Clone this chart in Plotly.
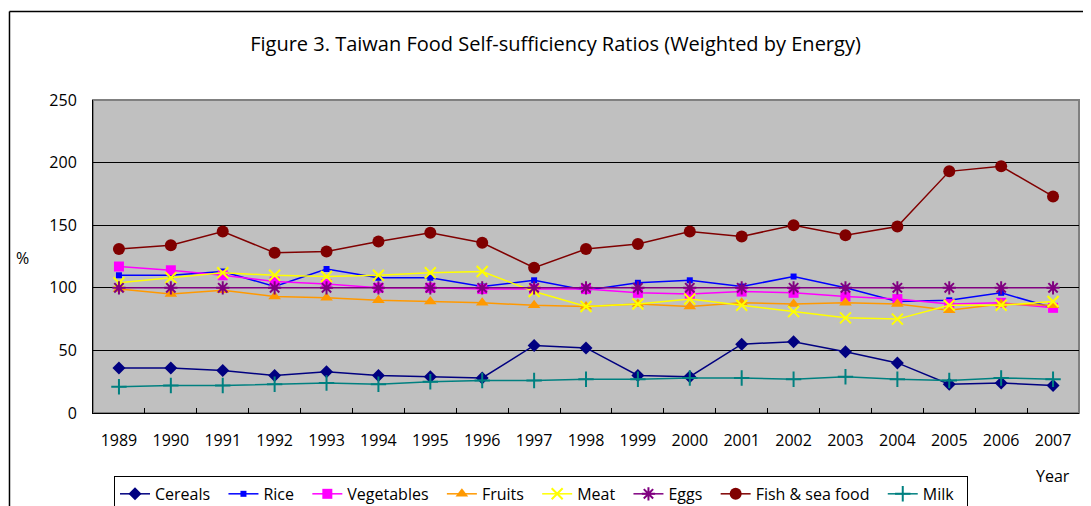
import plotly.graph_objects as go

years = [str(y) for y in range(1989, 2008)]

cereals = [36, 36, 34, 30, 33, 30, 29, 28, 54, 52, 30, 29, 55, 57, 49, 40, 23, 24, 22]
rice = [110, 110, 113, 101, 115, 108, 108, 101, 106, 98, 104, 106, 101, 109, 100, 89, 90, 96, 84]
vegetables = [117, 114, 110, 105, 103, 100, 100, 99, 99, 99, 96, 95, 97, 96, 93, 91, 87, 88, 84]
fruits = [99, 95, 98, 93, 92, 90, 89, 88, 86, 85, 87, 85, 88, 87, 88, 87, 82, 87, 86]
meat = [104, 108, 112, 110, 109, 110, 112, 113, 97, 85, 87, 91, 86, 81, 76, 75, 86, 86, 89]
eggs = [100] * 19
fish = [131, 134, 145, 128, 129, 137, 144, 136, 116, 131, 135, 145, 141, 150, 142, 149, 193, 197, 173]
milk = [21, 22, 22, 23, 24, 23, 25, 26, 26, 27, 27, 28, 28, 27, 29, 27, 26, 28, 27]

FONT = "Open Sans"
PAD = "\u00a0\u00a0"  # widen legend entries a little, like the Excel legend spacing

series = [
    ("Cereals", cereals, "#000080", "diamond", 10, 1.5),
    ("Rice", rice, "#0000FF", "square", 6, 1.5),
    ("Vegetables", vegetables, "#FF00FF", "square", 10, 1.5),
    ("Fruits", fruits, "#FF9900", "triangle-up", 11, 1.5),
    ("Meat", meat, "#FFFF00", "x-thin-open", 11, 1.5),
    ("Eggs", eggs, "#800080", "asterisk-open", 11, 1.5),
    ("Fish & sea food", fish, "#800000", "circle", 12, 1.5),
    ("Milk", milk, "#008080", "cross-thin-open", 11, 1.5),
]

fig = go.Figure()
for name, vals, color, sym, size, lw in series:
    fig.add_trace(go.Scatter(
        x=years, y=vals, name=name + PAD, mode="lines+markers",
        line=dict(color=color, width=lw),
        marker=dict(symbol=sym, size=size, color=color,
                    line=dict(color=color, width=2 if "open" in sym else 0)),
    ))

# page body has an 8px margin, so the figure is sized 8px smaller than the window
W, H = 1083, 498
fig.update_layout(
    width=W, height=H,
    margin=dict(l=85, r=12, t=92, b=93, autoexpand=False),
    paper_bgcolor="white",
    plot_bgcolor="#C0C0C0",
    font=dict(family=FONT, size=16, color="black"),
    title=dict(text="Figure 3. Taiwan Food Self-sufficiency Ratios (Weighted by Energy)",
               xref="container", x=547.5 / W, xanchor="center",
               yref="container", y=1 - 36 / H, yanchor="middle",
               font=dict(family=FONT, size=20, color="black")),
    legend=dict(orientation="h", x=0.0213, xanchor="left", y=-0.201, yanchor="top",
                bordercolor="black", borderwidth=1, bgcolor="white",
                font=dict(family=FONT, size=16), tracegroupgap=0),
    showlegend=True,
)

fig.update_xaxes(
    type="category", range=[-0.5, 18.5], tickson="boundaries",
    ticks="inside", ticklen=5, tickcolor="black",
    showline=True, linecolor="black", linewidth=1,
    showgrid=False, ticklabelstandoff=13, automargin=False,
    tickfont=dict(family=FONT, size=16),
)
fig.update_yaxes(
    range=[0, 250], dtick=50, showgrid=True, gridcolor="black", gridwidth=1,
    showline=True, linecolor="black", linewidth=1, zeroline=False,
    ticks="", ticklabelstandoff=12, automargin=False,
    tickfont=dict(family=FONT, size=16),
)

# grey frame on top/right of plot area
fig.add_shape(type="rect", xref="paper", yref="paper", x0=0, x1=1, y0=0, y1=1,
              line=dict(color="#808080", width=2), layer="below")

# outer chart border (left and top only visible)
fig.add_shape(type="line", xref="paper", yref="paper", x0=-0.0847, x1=-0.0847,
              y0=1.2827, y1=-0.35, line=dict(color="black", width=1.5))
fig.add_shape(type="line", xref="paper", yref="paper", x0=-0.0847, x1=1.05,
              y0=1.2827, y1=1.2827, line=dict(color="black", width=1.5))

fig.add_annotation(text="%", xref="paper", yref="paper", x=(22 - 93) / 987, y=(413 - 258) / 313,
                   xanchor="center", yanchor="middle",
                   showarrow=False, font=dict(family=FONT, size=16))
fig.add_annotation(text="Year", xref="paper", yref="paper", x=(1054 - 93) / 987, y=(413 - 476) / 313,
                   xanchor="center", yanchor="middle",
                   showarrow=False, font=dict(family=FONT, size=16))

fig.write_html("out.html")
